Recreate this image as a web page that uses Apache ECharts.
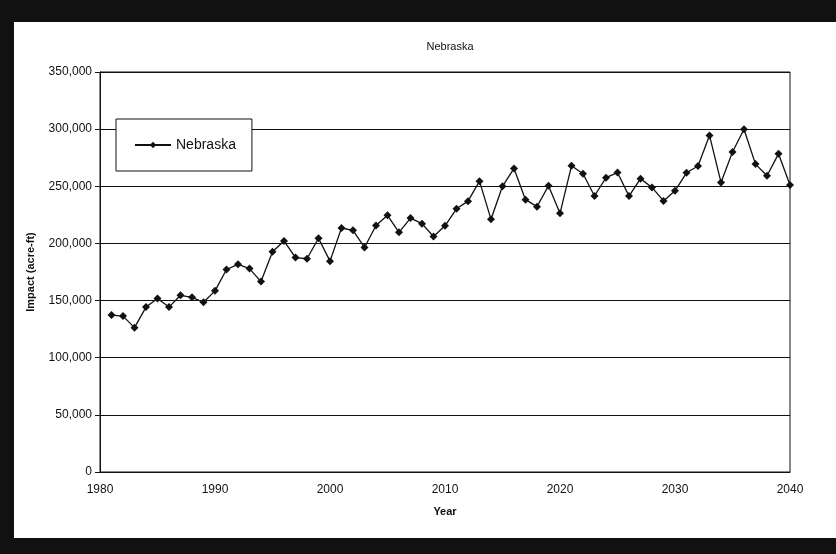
<!DOCTYPE html>
<html><head><meta charset="utf-8">
<script src="https://cdn.jsdelivr.net/npm/echarts@6/dist/echarts.min.js"></script>
<style>html,body{margin:0;padding:0;background:#111;}#c{width:836px;height:554px;}</style>
</head><body><div id="c"></div>
<script>
const years = [];
for (let y = 1981; y <= 2040; y++) years.push(y);
const impact = [
 137300,136400,126300,144300,151800,144300,154600,152800,148500,158500,
 177200,181700,178000,166600,192800,202200,187600,186600,204500,184500,
 213500,211500,196500,215700,224600,209700,222200,217300,206100,215400,
 230300,237000,254500,221100,250000,265600,238300,232200,250500,226300,
 267900,261000,241500,257500,262000,241400,256700,249000,237200,246000,
 261800,267800,294500,253400,280000,299900,269400,259200,278400,251100
];
const yTicks = [0,50000,100000,150000,200000,250000,300000,350000];
const xTicks = [1980,1990,2000,2010,2020,2030,2040];

const chart = echarts.init(document.getElementById('c'));
const font = 'Liberation Sans, Arial, sans-serif';
chart.setOption({
  backgroundColor: 'transparent',
  animation: false,
  graphic: [{type:'rect', shape:{x:14,y:22,width:822,height:516}, style:{fill:'#fff'}, z:-10}],
  title: {text:'Nebraska', left:445, top:36, textAlign:'center',
    textStyle:{fontFamily:font, fontSize:11, fontWeight:'normal', color:'#111'}},
  legend: {left:116, top:119, width:142, height:52, padding:[19,16,19,18],
    backgroundColor:'#fff', borderColor:'#111', borderWidth:1, borderRadius:0,
    itemWidth:36, itemHeight:8, itemGap:4,
    textStyle:{fontFamily:font, fontSize:14, color:'#111'},
    data:['Nebraska']},
  grid: {left:100, right:46, top:72, bottom:82, show:true, borderColor:'#111', borderWidth:1, backgroundColor:'#fff'},
  xAxis: {type:'value', min:1980, max:2040, interval:10,
    name:'Year', nameLocation:'middle', nameGap:34,
    nameTextStyle:{fontFamily:font, fontSize:11, fontWeight:'bold', color:'#111'},
    axisLine:{lineStyle:{color:'#111'}}, axisTick:{show:false}, splitLine:{show:false},
    axisLabel:{fontFamily:font, fontSize:12, color:'#111', margin:12,
      formatter: v => String(v)}
  },
  yAxis: {type:'value', min:0, max:350000, interval:50000,
    name:'Impact (acre-ft)', nameLocation:'middle', nameGap:64,
    nameTextStyle:{fontFamily:font, fontSize:11, fontWeight:'bold', color:'#111'},
    axisLine:{show:true, lineStyle:{color:'#111'}},
    axisTick:{show:true, inside:false, length:5, lineStyle:{color:'#111'}},
    splitLine:{show:true, lineStyle:{color:'#111', width:1}},
    axisLabel:{fontFamily:font, fontSize:12, color:'#111', margin:8,
      formatter: v => v.toLocaleString('en-US')}
  },
  series: [{name:'Nebraska', type:'line', data: years.map((y,i)=>[y, impact[i]]),
    symbol:'diamond', symbolSize:8, showSymbol:true,
    lineStyle:{color:'#111', width:1.3}, itemStyle:{color:'#111'}}]
});
</script></body></html>
